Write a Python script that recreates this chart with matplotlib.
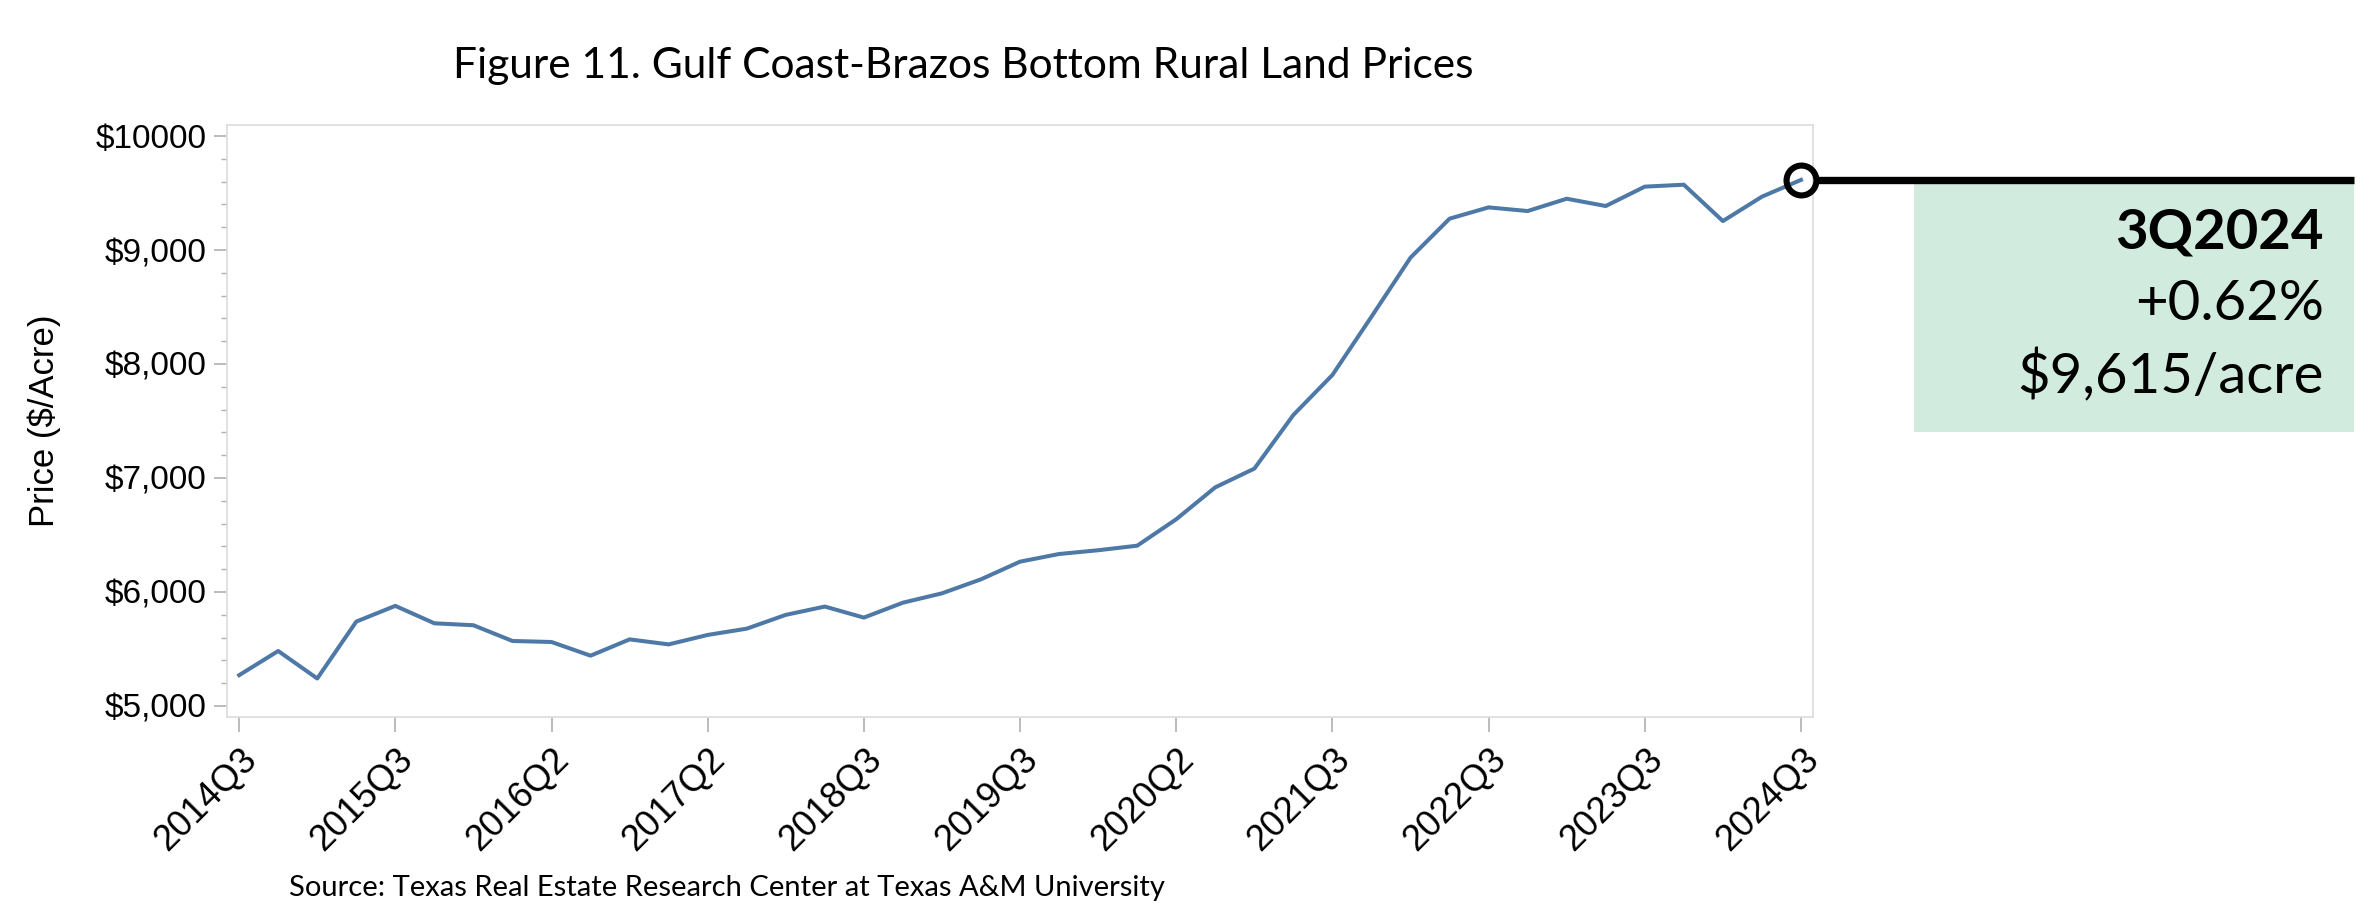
import numpy as np
import matplotlib
matplotlib.use("Agg")
import matplotlib.pyplot as plt
import matplotlib.transforms as mtransforms
from matplotlib.patches import Rectangle
from matplotlib.lines import Line2D

# Donnees (prix trimestriels, $/acre)
prix = [5270, 5482, 5241, 5740, 5878, 5725, 5708, 5570, 5561, 5441,
        5584, 5540, 5623, 5678, 5799, 5872, 5775, 5906, 5988, 6111,
        6266, 6333, 6366, 6406, 6638, 6918, 7082, 7553, 7904, 8415,
        8933, 9275, 9374, 9342, 9450, 9386, 9556, 9573, 9254, 9468,
        9615]
x_labels = ['2014Q3', '2015Q3', '2016Q2', '2017Q2', '2018Q3', '2019Q3',
            '2020Q2', '2021Q3', '2022Q3', '2023Q3', '2024Q3']
y_ticks = [5000, 6000, 7000, 8000, 9000, 10000]
y_labels = ['$5,000', '$6,000', '$7,000', '$8,000', '$9,000', '$10000']
box_lines = ['3Q2024', '+0.62%', '$9,615/acre']

bleu = '#4e79a7'
gris_cadre = '#dedede'
gris_tick = '#b0b0b0'

fig = plt.figure(figsize=(23.75, 9.21), dpi=100)
ax = fig.add_axes([0.0956, 0.2215, 0.6678, 0.6428])

x = np.arange(len(prix))
ax.plot(x, prix, color=bleu, lw=2.9, solid_joinstyle='round')

ax.set_xlim(-0.31, len(prix) - 1 + 0.31)
ax.set_ylim(4903, 10097)

# axes
for s in ax.spines.values():
    s.set_color(gris_cadre)
    s.set_linewidth(1.3)

ax.set_xticks(x[::4])
ax.set_xticklabels(x_labels, rotation=45, ha='right', va='top',
                   rotation_mode='anchor', fontsize=26,
                   family='Liberation Sans')
ax.tick_params(axis='x', length=11, width=1.2, color=gris_tick, pad=7)

ax.set_yticks(y_ticks)
ax.set_yticklabels(y_labels, fontsize=24, family='Liberation Sans')
ax.set_yticks(np.arange(5000, 10001, 200), minor=True)
ax.tick_params(axis='y', which='major', length=9.4, width=1.2,
               color=gris_tick, pad=5.5)
ax.tick_params(axis='y', which='minor', length=4.3, width=1.0,
               color=gris_tick)

ax.set_ylabel('Price ($/Acre)', fontsize=25, family='Liberation Sans')
ax.yaxis.set_label_coords(-0.105, 0.5)

# titre et source
fig.text(0.4055, 0.9153, 'Figure 11. Gulf Coast-Brazos Bottom Rural Land Prices',
         ha='center', va='baseline', fontsize=30.6, family='Lato')
fig.text(0.1217, 0.027, 'Source: Texas Real Estate Research Center at Texas A&M University',
         ha='left', va='baseline', fontsize=21, family='Lato')

# repere du dernier point
ax.plot(x[-1], prix[-1], 'o', ms=21.5, mfc='none', mec='black', mew=4.4,
        clip_on=False, zorder=5)
trans = mtransforms.blended_transform_factory(fig.transFigure, ax.transData)
fig.add_artist(Line2D([1818 / 2375, 2354 / 2375], [prix[-1], prix[-1]],
                      transform=trans, color='black', lw=5.3,
                      solid_capstyle='butt'))

fig.add_artist(Rectangle((1914 / 2375, 0.531), 440 / 2375, 0.270,
                         transform=fig.transFigure, facecolor='#d1ecdf',
                         edgecolor='none', zorder=0))
xt = 2324 / 2375
fig.text(xt, 0.7307, box_lines[0], ha='right', va='baseline',
         fontsize=40.5, fontweight='bold', family='Lato')
fig.text(xt, 0.6525, box_lines[1], ha='right', va='baseline',
         fontsize=40.5, family='Lato')
fig.text(xt, 0.5733, box_lines[2], ha='right', va='baseline',
         fontsize=40.5, family='Lato')

fig.savefig('out.png', dpi=100)
